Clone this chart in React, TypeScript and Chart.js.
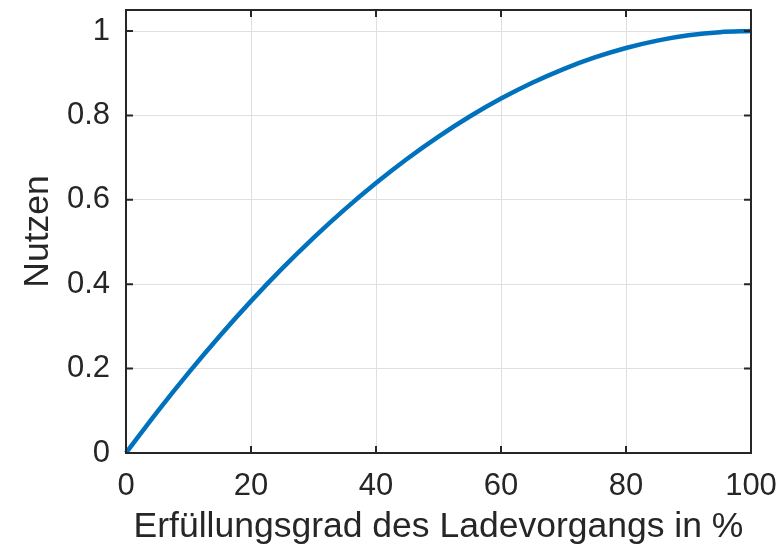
import React, { useEffect, useRef } from "react";
import { Chart, registerables } from "chart.js";

Chart.register(...registerables);

const fulfillment = [0, 5, 10, 15, 20, 25, 30, 35, 40, 45, 50, 55, 60, 65, 70, 75, 80, 85, 90, 95, 100];
const utility = [0, 0.0975, 0.19, 0.2775, 0.36, 0.4375, 0.51, 0.5775, 0.64, 0.6975, 0.75, 0.7975, 0.84, 0.8775, 0.91, 0.9375, 0.96, 0.9775, 0.99, 0.9975, 1];
const xTicks = [0, 20, 40, 60, 80, 100];
const yTicks = [0, 0.2, 0.4, 0.6, 0.8, 1];
const xTitle = "Erfüllungsgrad des Ladevorgangs in %";
const yTitle = "Nutzen";

const TEXT = "#262626";
const FONT = "'Liberation Sans', Arial, Helvetica, sans-serif";

const boxPlugin = {
  id: "matlabBox",
  afterDatasetsDraw(chart: any) {
    const { ctx, chartArea: a, scales } = chart;
    const xs = scales.x;
    const ys = scales.y;
    ctx.save();
    ctx.strokeStyle = TEXT;
    ctx.lineWidth = 2;
    ctx.beginPath();
    ctx.rect(a.left, a.top, a.right - a.left, a.bottom - a.top);
    ctx.stroke();
    const tl = 7;
    ctx.beginPath();
    for (const v of xTicks) {
      const px = xs.getPixelForValue(v);
      ctx.moveTo(px, a.bottom);
      ctx.lineTo(px, a.bottom - tl);
      ctx.moveTo(px, a.top);
      ctx.lineTo(px, a.top + tl);
    }
    for (const v of yTicks) {
      const py = ys.getPixelForValue(v);
      ctx.moveTo(a.left, py);
      ctx.lineTo(a.left + tl, py);
      ctx.moveTo(a.right, py);
      ctx.lineTo(a.right - tl, py);
    }
    ctx.stroke();
    ctx.restore();
  },
};

const zeroPad = (s: any) => {
  s.paddingTop = 0;
  s.paddingBottom = 0;
  s.paddingLeft = 0;
  s.paddingRight = 0;
};

export default function App() {
  const ref = useRef<HTMLCanvasElement | null>(null);
  useEffect(() => {
    if (!ref.current) return;
    const chart = new Chart(ref.current, {
      type: "line",
      data: {
        labels: fulfillment,
        datasets: [
          {
            data: fulfillment.map((x, i) => ({ x, y: utility[i] })),
            borderColor: "#0072BD",
            borderWidth: 4.5,
            pointRadius: 0,
            cubicInterpolationMode: "monotone",
            fill: false,
            clip: false as any,
          },
        ],
      },
      options: {
        responsive: false,
        animation: false,
        layout: { padding: { top: 10, right: 30, left: 0, bottom: 0 } },
        plugins: { legend: { display: false }, tooltip: { enabled: false } },
        scales: {
          x: {
            type: "linear",
            min: 0,
            max: 100,
            afterBuildTicks: (s: any) => {
              s.ticks = xTicks.map((v) => ({ value: v }));
            },
            afterFit: (s: any) => {
              s.height = 93;
              zeroPad(s);
            },
            ticks: {
              color: TEXT,
              font: { family: FONT, size: 31 },
              padding: 15,
              maxRotation: 0,
              autoSkip: false,
            },
            grid: { color: "#dfdfdf", lineWidth: 1, drawTicks: false },
            border: { display: false },
            title: {
              display: true,
              text: xTitle,
              color: TEXT,
              font: { family: FONT, size: 35.5 },
              padding: { top: 0, bottom: -3 },
            },
          },
          y: {
            type: "linear",
            min: 0,
            max: 1.05,
            afterBuildTicks: (s: any) => {
              s.ticks = yTicks.map((v) => ({ value: v }));
            },
            afterFit: (s: any) => {
              s.width = 126;
              zeroPad(s);
            },
            ticks: {
              color: TEXT,
              font: { family: FONT, size: 31 },
              padding: 16,
              autoSkip: false,
              callback: (v: any) => String(Math.round(Number(v) * 10) / 10),
            },
            grid: { color: "#dfdfdf", lineWidth: 1, drawTicks: false },
            border: { display: false },
            title: {
              display: true,
              text: yTitle,
              color: TEXT,
              font: { family: FONT, size: 35.5 },
              padding: { top: 17, bottom: 0 },
            },
          },
        },
      },
      plugins: [boxPlugin],
    });
    return () => chart.destroy();
  }, []);
  return (
    <div style={{ position: "absolute", left: 0, top: 0, width: 781, height: 546, background: "#fff" }}>
      <canvas ref={ref} width={781} height={546} style={{ width: 781, height: 546, display: "block" }} />
    </div>
  );
}
